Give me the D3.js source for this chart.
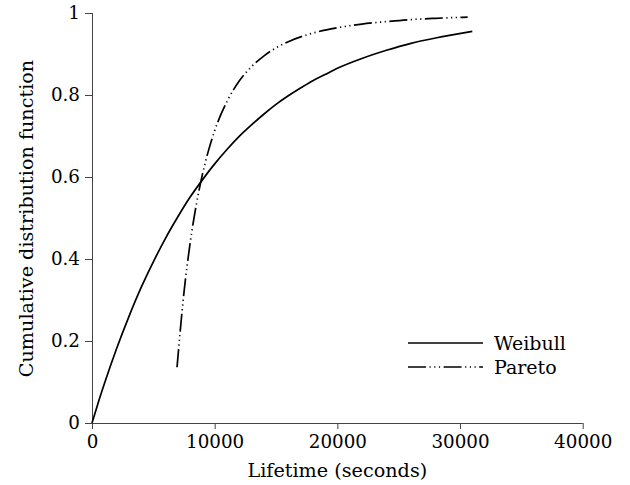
<!DOCTYPE html>
<html>
<head>
<meta charset="utf-8">
<script src="https://cdn.jsdelivr.net/npm/d3@7"></script>
<style>
  html, body { margin: 0; padding: 0; background: #fff; }
  svg { display: block; font-family: "DejaVu Serif", serif; }
</style>
</head>
<body>
<svg id="chart" width="630" height="485"></svg>
<script>
// Lifetime (seconds) sample points and cumulative distribution values
const weibullX = [0, 500, 1000, 1500, 2000, 3000, 4000, 5000, 6000, 7000, 8000, 9000, 10000,
  11000, 12000, 13000, 14000, 15000, 16000, 17000, 18000, 19000, 20000, 22000, 24000, 26000, 28000, 31000];
const weibullY = [0, 0.049, 0.095, 0.139, 0.181, 0.259, 0.330, 0.393, 0.451, 0.503, 0.551, 0.593, 0.632,
  0.667, 0.699, 0.727, 0.753, 0.777, 0.798, 0.817, 0.835, 0.850, 0.865, 0.889, 0.909, 0.926, 0.939, 0.955];

const paretoX = [6930, 7500, 8000, 8500, 9000, 9500, 10000, 11000, 12000, 13000, 14000, 15000, 16000,
  18000, 20000, 22000, 24000, 26000, 28000, 30620];
const paretoY = [0.136, 0.319, 0.439, 0.532, 0.606, 0.665, 0.713, 0.784, 0.834, 0.869, 0.895, 0.915, 0.930,
  0.951, 0.964, 0.973, 0.979, 0.984, 0.987, 0.990];

const xTicks = [0, 10000, 20000, 30000, 40000];
const yTicks = [0, 0.2, 0.4, 0.6, 0.8, 1];
const yTickLabels = ["0", "0.2", "0.4", "0.6", "0.8", "1"];

const seriesNames = ["Weibull", "Pareto"];

const svg = d3.select("#chart");
const plotLeft = 92, plotRight = 582.7, plotTop = 13, plotBottom = 423;

const x = d3.scaleLinear().domain([0, 40000]).range([plotLeft, plotRight]);
const y = d3.scaleLinear().domain([0, 1]).range([plotBottom, plotTop]);

const tickFont = 18.3;
const titleFont = 19.2;
const legendFont = 19;

// Axes
const xAxis = svg.append("g")
  .attr("transform", `translate(0,${plotBottom})`)
  .call(d3.axisBottom(x).tickValues(xTicks).tickFormat(d3.format("d")).tickSize(6).tickPadding(6));
const yAxis = svg.append("g")
  .attr("transform", `translate(${plotLeft},0)`)
  .call(d3.axisLeft(y).tickValues(yTicks).tickFormat((d, i) => yTickLabels[i]).tickSize(7).tickPadding(5));

[xAxis, yAxis].forEach(g => {
  g.selectAll("path.domain").attr("stroke", "#444").attr("stroke-width", 1);
  g.selectAll(".tick line").attr("stroke", "#444").attr("stroke-width", 1);
  g.selectAll(".tick text")
    .attr("font-family", "DejaVu Serif")
    .attr("font-size", tickFont)
    .attr("fill", "#000");
});
// Plain axis lines, no outer ticks
yAxis.select("path.domain").attr("d", `M0.5,${plotTop}V${plotBottom}`);
xAxis.select("path.domain").attr("d", `M${plotLeft},0.5H${plotRight}`);

// Axis titles
svg.append("text")
  .attr("x", (plotLeft + plotRight) / 2)
  .attr("y", 476.5)
  .attr("text-anchor", "middle")
  .attr("font-size", titleFont)
  .text("Lifetime (seconds)");

svg.append("text")
  .attr("transform", `translate(32.5,${(60 + 377) / 2}) rotate(-90)`)
  .attr("text-anchor", "middle")
  .attr("font-size", titleFont)
  .text("Cumulative distribution function");

// Curves
const line = d3.line().x(d => x(d[0])).y(d => y(d[1])).curve(d3.curveMonotoneX);
const weibull = weibullX.map((v, i) => [v, weibullY[i]]);
const pareto = paretoX.map((v, i) => [v, paretoY[i]]);

const paretoDash = "18,3.5,1.2,3.5,1.2,3.5,1.2,3.5";

svg.append("path")
  .datum(weibull)
  .attr("d", line)
  .attr("fill", "none")
  .attr("stroke", "#000")
  .attr("stroke-width", 1.7);

svg.append("path")
  .datum(pareto)
  .attr("d", line)
  .attr("fill", "none")
  .attr("stroke", "#000")
  .attr("stroke-width", 1.7)
  .attr("stroke-dasharray", paretoDash);

// Legend
const legend = svg.append("g");
const legendRows = [343, 367];
seriesNames.forEach((name, i) => {
  legend.append("line")
    .attr("x1", 408).attr("x2", 483)
    .attr("y1", legendRows[i]).attr("y2", legendRows[i])
    .attr("stroke", "#000")
    .attr("stroke-width", 1.7)
    .attr("stroke-dasharray", i === 1 ? paretoDash : null);
  legend.append("text")
    .attr("x", 494)
    .attr("y", legendRows[i] + 6.5)
    .attr("font-size", legendFont)
    .text(name);
});
</script>
</body>
</html>
